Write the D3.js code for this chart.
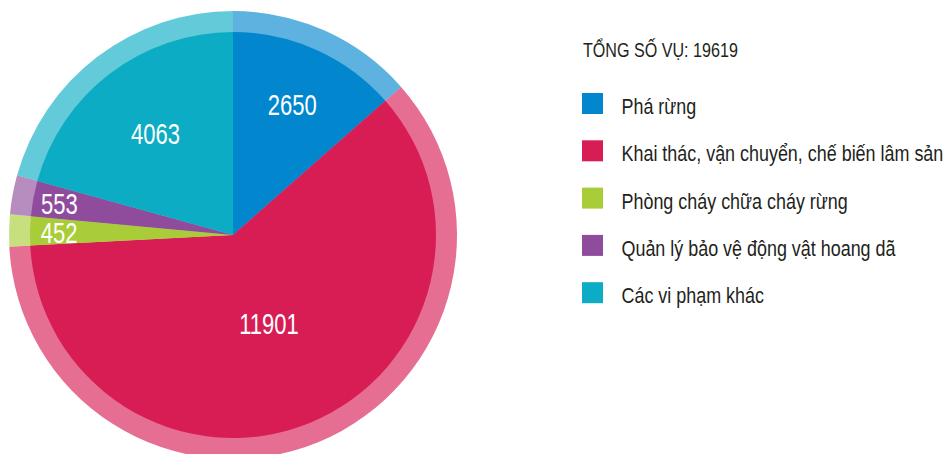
<!DOCTYPE html>
<html><head><meta charset="utf-8">
<script src="https://cdn.jsdelivr.net/npm/d3@7"></script>
<style>
html,body{margin:0;padding:0;background:#fff;}
svg{display:block;font-family:"Liberation Sans",Arial,sans-serif;}
</style></head><body>
<svg id="c" width="947" height="454"></svg>
<script>
const categories = ["Phá rừng","Khai thác, vận chuyển, chế biến lâm sản","Phòng cháy chữa cháy rừng","Quản lý bảo vệ động vật hoang dã","Các vi phạm khác"];
const values = [2650, 11901, 452, 553, 4063];
const colors = ["#0287ce","#d81c54","#a9cd38","#8f4c9d","#0bacc4"];
const totalLabel = "TỔNG SỐ VỤ: 19619";
// label placement radius factors (fraction of inner radius)
const labelRadiusFactor = [0.71, 0.47, 0.857, 0.87, 0.63];

const svg = d3.select("#c");
const cx = 233, cy = 235, rOuter = 224, rInner = 203;
const g = svg.append("g").attr("transform", `translate(${cx},${cy})`);
const data = categories.map((c,i)=>({name:c, value:values[i], color:colors[i], i}));
const pie = d3.pie().value(d=>d.value).sort(null);
const arcs = pie(data);
const outerArc = d3.arc().innerRadius(0).outerRadius(rOuter);
const innerArc = d3.arc().innerRadius(0).outerRadius(rInner);

g.selectAll("path.outer").data(arcs).join("path").attr("class","outer")
  .attr("d", outerArc).attr("fill", d=>d.data.color).attr("fill-opacity",0.64);
g.selectAll("path.inner").data(arcs).join("path").attr("class","inner")
  .attr("d", innerArc).attr("fill", d=>d.data.color);

// condensed look: measure and scale horizontally
function condense(sel, sx){
  sel.each(function(){
    const t = d3.select(this);
    const x = +t.attr("data-x"), y = +t.attr("data-y");
    t.attr("transform", `translate(${x},${y}) scale(${sx},1)`);
  });
}

const lbls = g.selectAll("text.lbl").data(arcs).join("text").attr("class","lbl")
  .each(function(d){
    const a = (d.startAngle+d.endAngle)/2;
    const r = rInner*labelRadiusFactor[d.data.i];
    d3.select(this).attr("data-x", Math.sin(a)*r).attr("data-y", -Math.cos(a)*r + 11);
  })
  .attr("text-anchor","middle")
  .attr("fill","#fff").attr("font-size",30)
  .text(d=>d.data.value);
const w2650 = lbls.filter(d=>d.data.i===0).node().getComputedTextLength();
condense(lbls, 49/w2650);

// legend
const lg = svg.append("g");
const title = lg.append("text").attr("data-x",583).attr("data-y",56.5).attr("font-size",19.5)
  .attr("fill","#231f20").text(totalLabel);
condense(title, 155/title.node().getComputedTextLength());

const ly = d3.scaleBand().domain(categories).range([93, 93+47.3*5]);
const items = lg.selectAll("g.item").data(data).join("g").attr("class","item")
  .attr("transform", d=>`translate(582,${ly(d.name)})`);
items.append("rect").attr("width",21).attr("height",21).attr("fill",d=>d.color);
const ltxt = items.append("text").attr("data-x",39.5).attr("data-y",21).attr("font-size",22.3)
  .attr("fill","#231f20").text(d=>d.name);
const wLong = ltxt.filter(d=>d.i===1).node().getComputedTextLength();
condense(ltxt, 322/wLong);
</script>
</body></html>
